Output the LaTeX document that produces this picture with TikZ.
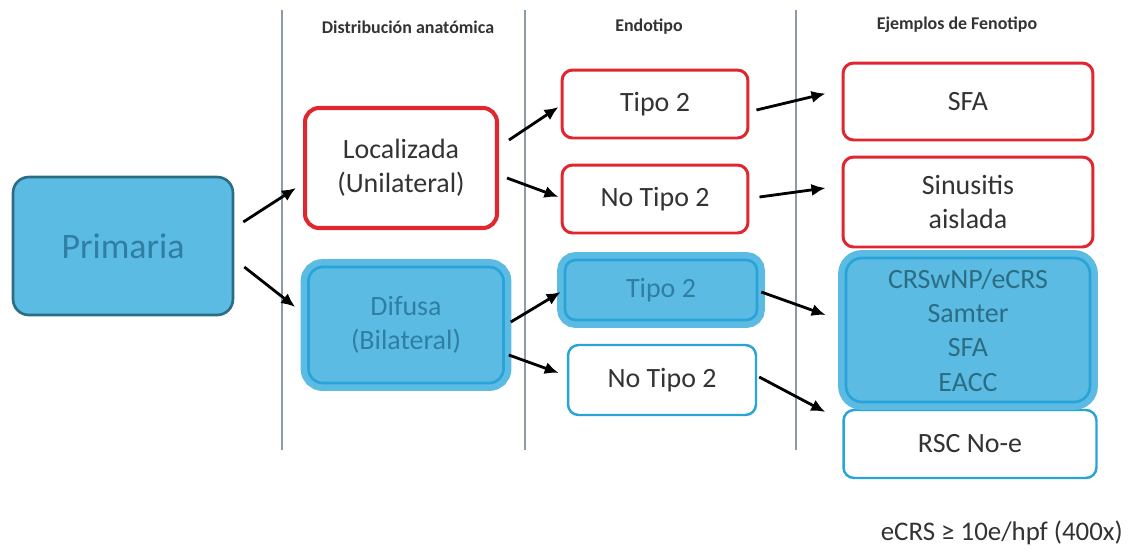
\documentclass[tikz,border=0pt]{standalone}
\usepackage{fontspec}
\setmainfont{Carlito}
\usetikzlibrary{arrows.meta}

\definecolor{azulfondo}{HTML}{5BBBE2}
\definecolor{azulborde}{HTML}{2AA3D8}
\definecolor{azultexto}{HTML}{2F7EA3}
\definecolor{tealoscuro}{HTML}{2B6E84}
\definecolor{rojo}{HTML}{E0262E}
\definecolor{gristexto}{HTML}{333333}
\definecolor{lineagris}{HTML}{8C9BAA}

\begin{document}
\begin{tikzpicture}[
    x=0.02cm, y=-0.02cm,
    font=\fontsize{15.9}{19.5}\selectfont,
    titulo/.style={font=\fontsize{10.2}{12}\selectfont\bfseries, text=gristexto},
    caja/.style={rounded corners=6pt, align=center, inner sep=0pt},
    roja/.style={caja, draw=rojo, line width=1.7pt, fill=white, text=gristexto},
    celeste/.style={caja, draw=azulborde, line width=1.4pt, fill=white, text=gristexto},
    azul/.style={caja, fill=azulfondo, draw=azulborde, line width=1.5pt, text=azultexto,
                 preaction={draw=azulfondo, line width=9pt}},
    flecha/.style={line width=1.6pt, -{Latex[length=8pt,width=7pt]}},
    separa/.style={draw=lineagris, line width=0.9pt}]

  \useasboundingbox (0,0) rectangle (1134,549);

  % columnas
  \draw[separa] (282,10) -- (282,450);
  \draw[separa] (525,10) -- (525,450);
  \draw[separa] (796,10) -- (796,450);

  \node[titulo] (t1) at (408,27) {Distribución anatómica};
  \node[titulo] (t2) at (649,27) {Endotipo};
  \node[titulo] (t3) at (957,25) {Ejemplos de Fenotipo};

  \node[caja, fill=azulfondo, draw=tealoscuro, line width=1.5pt, rounded corners=9pt,
        text=azultexto, minimum width=4.4cm, minimum height=2.76cm,
        font=\fontsize{20.4}{24}\selectfont] (prim) at (123,246) {Primaria};

  \node[roja, line width=2.3pt, rounded corners=8pt, minimum width=3.84cm,
        minimum height=2.4cm] (loc) at (401,168) {Localizada\\(Unilateral)};
  \node[azul, rounded corners=8pt, minimum width=3.9cm,
        minimum height=2.32cm] (dif) at (406,325) {Difusa\\(Bilateral)};

  \node[roja, minimum width=3.72cm, minimum height=1.36cm] (t2a)  at (655,104) {Tipo 2};
  \node[roja, minimum width=3.72cm, minimum height=1.36cm] (nt2a) at (655,199) {No Tipo 2};
  \node[azul, minimum width=3.84cm, minimum height=1.2cm]  (t2b)  at (661,290) {Tipo 2};
  \node[celeste, minimum width=3.76cm, minimum height=1.4cm] (nt2b) at (662,380) {No Tipo 2};

  \node[roja, minimum width=5cm, minimum height=1.54cm] (sfa) at (968,101.5) {SFA};
  \node[roja, minimum width=5cm, minimum height=1.8cm]  (sin) at (968,202) {Sinusitis\\aislada};
  \node[celeste, minimum width=5.06cm, minimum height=1.36cm] (rsc) at (970,444) {RSC No-e};
  \node[azul, rounded corners=9pt, minimum width=4.88cm, minimum height=2.88cm,
        text=tealoscuro] (crs) at (968,330) {CRSwNP/eCRS\\Samter\\SFA\\EACC};

  \node[anchor=east, text=gristexto, font=\fontsize{15.3}{18}\selectfont] (nota) at (1129,533)
    {eCRS ≥ 10e/hpf (400x)};

  \draw[flecha] ([shift={(9,-24)}]prim.east)  -- ([shift={(-7,20)}]loc.west);
  \draw[flecha] ([shift={(10,21)}]prim.east)  -- ([shift={(-12,-18)}]dif.west);
  \draw[flecha] ([shift={(10,-28)}]loc.east)  -- ([shift={(-2,3)}]t2a.west);
  \draw[flecha] ([shift={(8,10)}]loc.east)    -- ([shift={(-2,-2)}]nt2a.west);
  \draw[flecha] ([shift={(6,-3)}]dif.east)    -- ([shift={(-3,2)}]t2b.west);
  \draw[flecha] ([shift={(4,30)}]dif.east)    -- ([shift={(-8,-7)}]nt2b.west);
  \draw[flecha] ([shift={(7,6)}]t2a.east)     -- ([shift={(-16,-8)}]sfa.west);
  \draw[flecha] ([shift={(10,-2)}]nt2a.east)  -- ([shift={(-16,-14)}]sin.west);
  \draw[flecha] ([shift={(3,2)}]t2b.east)     -- ([shift={(-19,-15)}]crs.west);
  \draw[flecha] ([shift={(2,-3)}]nt2b.east)   -- ([shift={(-17,-32)}]rsc.west);

\end{tikzpicture}
\end{document}
